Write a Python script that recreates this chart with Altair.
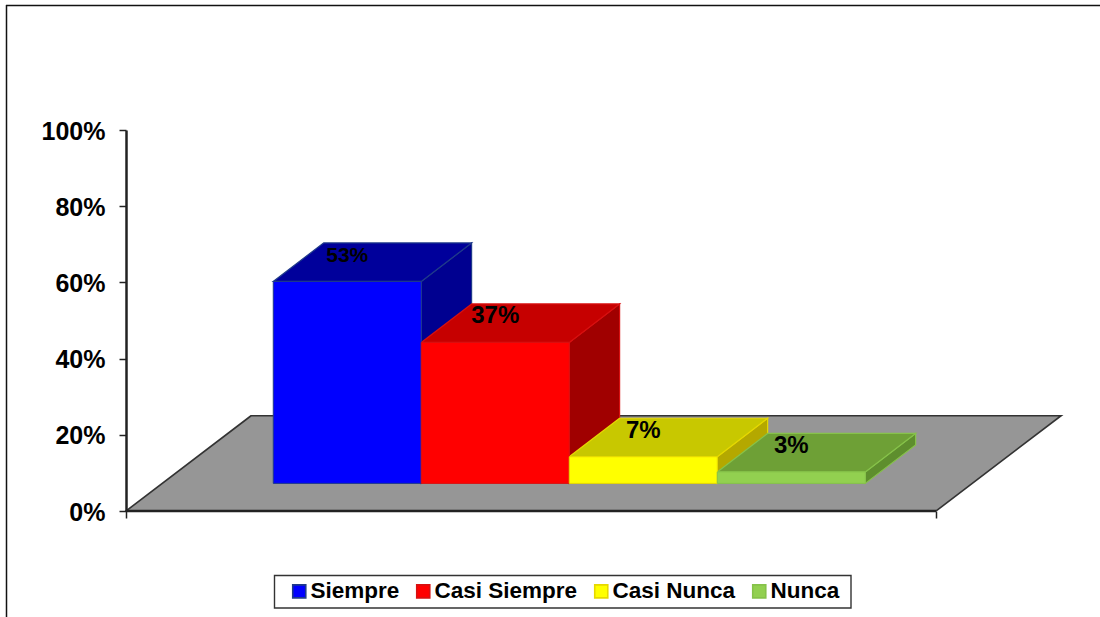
import altair as alt
import pandas as pd

categories = ["Siempre", "Casi Siempre", "Casi Nunca", "Nunca"]
values = [53, 37, 7, 3]
tick_values = [0, 20, 40, 60, 80, 100]

front_colors = ["#0000FF", "#FF0000", "#FFFF00", "#92D050"]
top_colors = ["#00009B", "#C60000", "#C8C800", "#6EA036"]
side_colors = ["#000090", "#A00000", "#B4A800", "#5E8E2E"]
edge_colors = ["#1F3A8A", "#D81010", "#E6D800", "#86C24A"]
label_sizes = [21, 24, 24, 24]

# Projection of the pseudo-3D box, in axis units (x: one unit is one bar width, y: percent)
BAR_START = 0.995
BAR_DEPTH_X = 0.34
BAR_DEPTH_Y = 10.1
BAR_BASE = 7.25
FLOOR_W = 5.473
FLOOR_DEPTH_X = 0.845
FLOOR_DEPTH_Y = 25.0
LABEL_GAP = 6.8

x_scale = alt.Scale(domain=[0, 6.324], range=[0, 936], nice=False, zero=False)
y_scale = alt.Scale(domain=[0, 100], range=[381, 0], nice=False)

X = alt.X("x:Q", scale=x_scale, title=None,
          axis=alt.Axis(values=[0, FLOOR_W], labels=False, domain=False, grid=False,
                        tickSize=7, tickWidth=1.5, tickColor="#222222", title=None))
Y = alt.Y("y:Q", scale=y_scale, title=None,
          axis=alt.Axis(values=tick_values, labelExpr="datum.value + '%'", grid=False,
                        domainColor="#222222", domainWidth=2.5, tickColor="#222222",
                        tickSize=7, tickWidth=1.5, labelFont="Liberation Sans",
                        labelFontSize=25, labelFontWeight="bold", labelColor="#000000",
                        labelPadding=14, labelOffset=1, zindex=1, title=None))


def h_face(x_near, x_near2, y_near, y_far, dx, fill, stroke, width=1.2):
    """Parallelogram with horizontal near and far edges."""
    df = pd.DataFrame({
        "x": [x_near, x_near + dx],
        "x2": [x_near2, x_near2 + dx],
        "y": [y_near, y_far],
    })
    return alt.Chart(df).mark_area(
        orient="horizontal", fill=fill, stroke=stroke, strokeWidth=width
    ).encode(x=alt.X("x:Q", scale=x_scale), x2="x2:Q", y=alt.Y("y:Q", scale=y_scale))


def v_face(x_near, x_far, y_low, y_high, dy, fill, stroke, width=1.2):
    """Parallelogram with vertical near and far edges."""
    df = pd.DataFrame({
        "x": [x_near, x_far],
        "y": [y_low, y_low + dy],
        "y2": [y_high, y_high + dy],
    })
    return alt.Chart(df).mark_area(
        orient="vertical", fill=fill, stroke=stroke, strokeWidth=width
    ).encode(x=alt.X("x:Q", scale=x_scale), y=alt.Y("y:Q", scale=y_scale), y2="y2:Q")


# Floor plane, with the axes attached to its layer
floor_df = pd.DataFrame({
    "x": [0, FLOOR_DEPTH_X],
    "x2": [FLOOR_W, FLOOR_W + FLOOR_DEPTH_X],
    "y": [0, FLOOR_DEPTH_Y],
})
floor = alt.Chart(floor_df).mark_area(
    orient="horizontal", fill="#969696", stroke="#333333", strokeWidth=1.6
).encode(x=X, x2="x2:Q", y=Y)

baseline = alt.Chart(pd.DataFrame({"x": [0], "x2": [FLOOR_W], "y": [0]})).mark_rule(
    color="#222222", strokeWidth=2.5
).encode(x=alt.X("x:Q", scale=x_scale), x2="x2:Q", y=alt.Y("y:Q", scale=y_scale))

# Side and top faces go back to front, left to right, so each bar hides its left neighbour
faces = []
for i, (cat, val) in enumerate(zip(categories, values)):
    x0 = BAR_START + i
    x1 = x0 + 1
    top = BAR_BASE + val
    faces.append(v_face(x1, x1 + BAR_DEPTH_X, BAR_BASE, top, BAR_DEPTH_Y, side_colors[i], edge_colors[i]))
    faces.append(h_face(x0, x1, top, top + BAR_DEPTH_Y, BAR_DEPTH_X, top_colors[i], edge_colors[i]))

# Front faces carry the legend
front_df = pd.DataFrame({
    "cat": categories,
    "x": [BAR_START + i for i in range(len(categories))],
    "x2": [BAR_START + i + 1 for i in range(len(categories))],
    "y": [BAR_BASE] * len(categories),
    "y2": [BAR_BASE + v for v in values],
})
legend = alt.Legend(
    orient="none", legendX=162, legendY=450, direction="horizontal", columns=4,
    title=None, symbolType="square", symbolSize=170, symbolStrokeWidth=1.6,
    labelFont="Liberation Sans", labelFontSize=22.5, labelFontWeight="bold",
    labelColor="#000000", labelOffset=0, columnPadding=12, padding=0,
    symbolOpacity=1, labelLimit=300,
)
front = alt.Chart(front_df).mark_bar(strokeWidth=1).encode(
    x=alt.X("x:Q", scale=x_scale),
    x2="x2:Q",
    y=alt.Y("y:Q", scale=y_scale),
    y2="y2:Q",
    color=alt.Color("cat:N", sort=categories, legend=legend,
                    scale=alt.Scale(domain=categories, range=front_colors)),
    stroke=alt.Stroke("cat:N", sort=categories, legend=legend,
                      scale=alt.Scale(domain=categories, range=edge_colors)),
)

# Value labels sit on the top faces
labels = []
for i, (cat, val) in enumerate(zip(categories, values)):
    df = pd.DataFrame({"x": [BAR_START + i + 0.5], "y": [BAR_BASE + val + LABEL_GAP], "t": [f"{val}%"]})
    labels.append(
        alt.Chart(df).mark_text(
            font="Liberation Sans", fontSize=label_sizes[i], fontWeight="bold",
            color="#000000", align="center", baseline="middle",
        ).encode(x=alt.X("x:Q", scale=x_scale), y=alt.Y("y:Q", scale=y_scale), text="t:N")
    )

# Thin frame along the top and left of the page, and the box around the legend
frame_top = alt.Chart(pd.DataFrame({"a": [0]})).mark_rule(color="#111111", strokeWidth=1.5).encode(
    x=alt.value(-120), x2=alt.value(974), y=alt.value(-124.5)
)
frame_left = alt.Chart(pd.DataFrame({"a": [0]})).mark_rule(color="#111111", strokeWidth=1.5).encode(
    x=alt.value(-119.5), y=alt.value(-125), y2=alt.value(487)
)
legend_box = alt.Chart(pd.DataFrame({"a": [0]})).mark_rect(
    fill="#FFFFFF", stroke="#333333", strokeWidth=1.4
).encode(x=alt.value(148.5), x2=alt.value(725), y=alt.value(445.5), y2=alt.value(478))

chart = alt.layer(
    legend_box, floor, baseline, *faces, front, *labels, frame_top, frame_left
).resolve_scale(color="shared", stroke="shared").properties(
    width=936,
    height=381,
    background="#FFFFFF",
    padding={"left": 126, "top": 130, "right": 38, "bottom": 106},
    autosize=alt.AutoSizeParams(type="none"),
).configure_view(stroke=None)

chart.save("out.html", embed_options={"renderer": "svg", "actions": False})
